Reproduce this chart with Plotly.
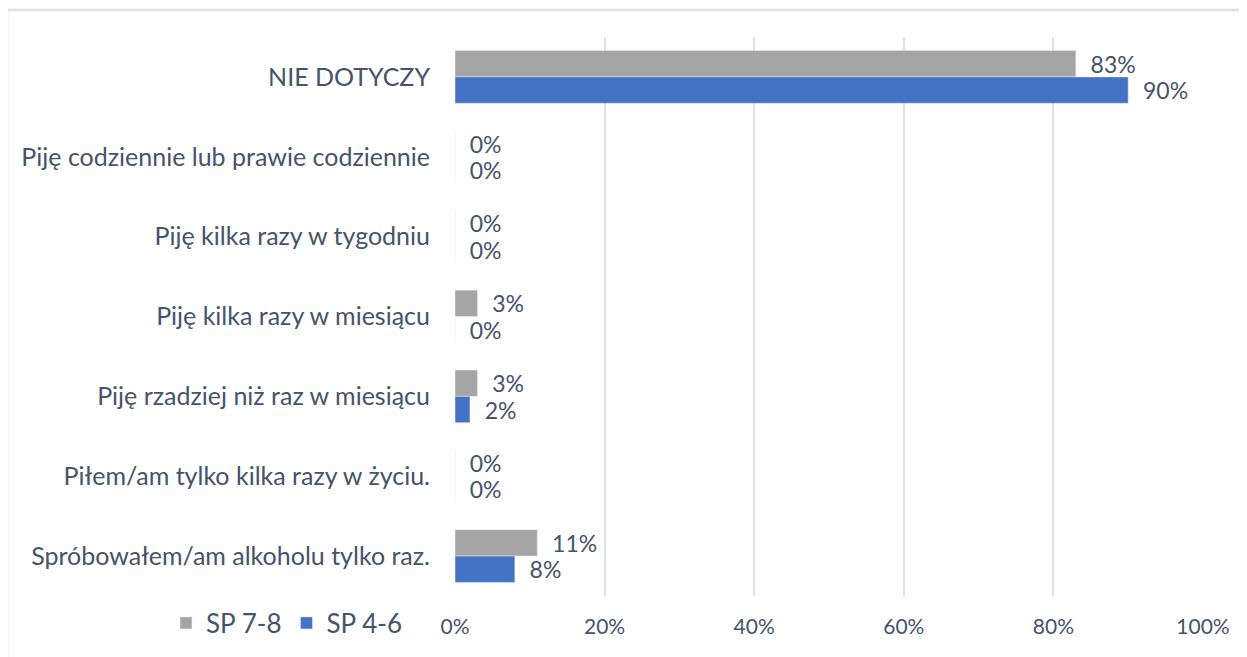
import plotly.graph_objects as go

categories = [
    "NIE DOTYCZY",
    "Piję codziennie lub prawie codziennie",
    "Piję kilka razy w tygodniu",
    "Piję kilka razy w miesiącu",
    "Piję rzadziej niż raz w miesiącu",
    "Piłem/am tylko kilka razy w życiu.",
    "Spróbowałem/am alkoholu tylko raz.",
]
sp78 = [0.83, 0.0, 0.0, 0.03, 0.03, 0.0, 0.11]
sp46 = [0.90, 0.0, 0.0, 0.0, 0.02, 0.0, 0.08]
tick_vals = [0, 0.2, 0.4, 0.6, 0.8, 1.0]
tick_text = ["0%", "20%", "40%", "60%", "80%", "100%"]

TXT = "#44546A"
FONT = "Lato"
pad = "\u00a0\u00a0"

fig = go.Figure()
fig.add_trace(go.Bar(
    y=categories, x=sp78, orientation="h", name="SP 7-8",
    marker=dict(color="#A5A5A5"),
    text=[pad + f"{v:.0%}" for v in sp78], textposition="outside", constraintext="none",
    textfont=dict(color=TXT, size=23, family=FONT), cliponaxis=False,
))
fig.add_trace(go.Bar(
    y=categories, x=sp46, orientation="h", name="SP 4-6",
    marker=dict(color="#4472C4"),
    text=[pad + f"{v:.0%}" for v in sp46], textposition="outside", constraintext="none",
    textfont=dict(color=TXT, size=23, family=FONT), cliponaxis=False,
))

# page has an 8px body margin, so the figure is offset by (8, 8)
OFF = 8
W, H = 1247 - OFF, 657 - OFF
L, R, T, B = 455 - OFF, 44, 37 - OFF, 60
pw, ph = W - L - R, H - T - B

def px_x(p):
    return (p - OFF - L) / pw

def px_y(p):
    return 1 - (p - OFF - T) / ph

fig.update_layout(
    width=W, height=H,
    margin=dict(l=L, r=R, t=T, b=B),
    paper_bgcolor="white", plot_bgcolor="white",
    barmode="group", bargap=0.34, bargroupgap=0,
    font=dict(family=FONT, color=TXT, size=22),
    uniformtext=dict(mode=False),
    showlegend=True,
    legend=dict(orientation="h", x=px_x(166), xanchor="left", y=px_y(623), yanchor="middle",
                font=dict(size=26, color=TXT, family=FONT), traceorder="normal",
                itemwidth=30, bgcolor="rgba(0,0,0,0)"),
    xaxis=dict(range=[0, 1.0], tickvals=tick_vals, ticktext=tick_text,
               showgrid=True, gridcolor="#DDE2EA", gridwidth=1.5, zeroline=False,
               showline=False, ticklabelstandoff=16,
               tickfont=dict(size=21, color=TXT, family=FONT), fixedrange=True),
    yaxis=dict(autorange="reversed", showgrid=False, showline=False, zeroline=False,
               ticklabelstandoff=24, tickfont=dict(size=25, color=TXT, family=FONT)),
    shapes=[
        dict(type="line", xref="paper", yref="paper", x0=px_x(7), x1=px_x(1300),
             y0=px_y(10), y1=px_y(10), line=dict(color="#DCE0E8", width=2.5)),
        dict(type="line", xref="paper", yref="paper", x0=px_x(7), x1=px_x(7),
             y0=px_y(10), y1=px_y(700), line=dict(color="#DCE0E8", width=2.5)),
    ],
)
fig.write_html("out.html")
